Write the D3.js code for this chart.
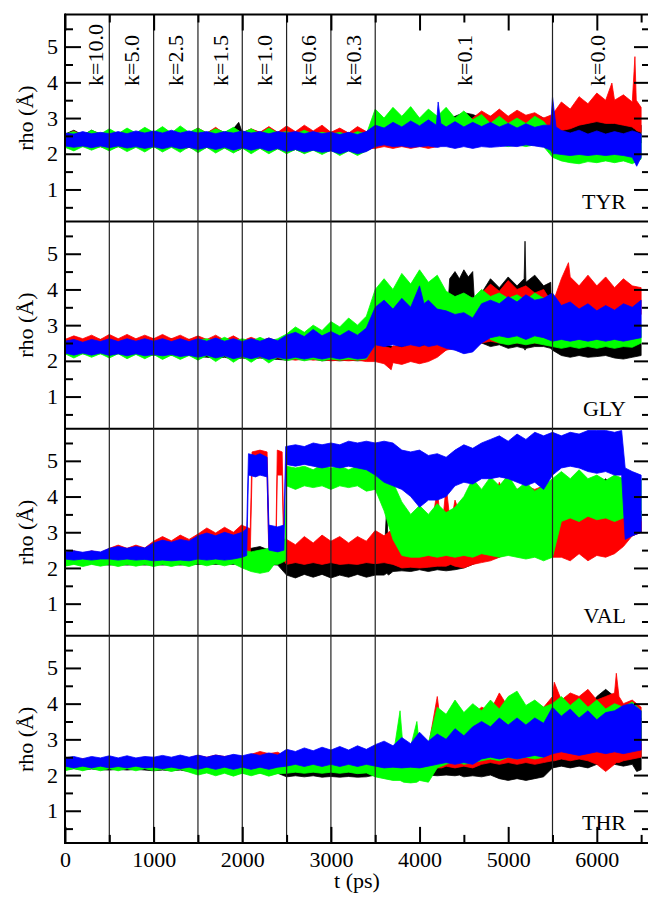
<!DOCTYPE html>
<html>
<head>
<meta charset="utf-8">
<script src="https://cdn.jsdelivr.net/npm/d3@7"></script>
<style>
  body { margin: 0; background: #fff; }
  svg { display: block; }
</style>
</head>
<body>
<div id="chart"></div>
<script>
// Each row: [t (ps), low rho, high rho] — envelope of the trajectory
var tyrBlack = [[0,2.22,2.55],[100,2.14,2.66],[200,2.22,2.52],[300,2.14,2.66],[400,2.2,2.55],[500,2.12,2.64],[600,2.2,2.56],[700,2.12,2.68],[800,2.2,2.56],[900,2.12,2.66],
  [1000,2.2,2.58],[1100,2.1,2.68],[1200,2.2,2.58],[1300,2.1,2.7],[1400,2.18,2.58],[1500,2.08,2.7],[1600,2.18,2.58],[1700,2.08,2.7],[1800,2.16,2.6],[1900,2.06,2.7],[1960,2.1,2.88],[2000,2.16,2.6],[2100,2.06,2.68],[2200,2.16,2.6],[2300,2.04,2.7],[2400,2.14,2.6],
  [2500,2.04,2.7],[2600,2.12,2.6],[2700,2.02,2.74],[2800,2.12,2.62],[2900,2.02,2.72],[3000,2.1,2.6],[3100,2.02,2.66],[3200,2.1,2.58],[3300,2.0,2.66],[3400,2.08,2.6],
  [3500,2.2,2.85],[3600,2.25,2.8],[3700,2.2,2.9],[3800,2.25,2.85],[3900,2.2,2.85],[4000,2.25,2.9],[4100,2.2,2.85],[4200,2.25,2.9],[4300,2.3,2.95],[4400,2.4,3.05],[4500,2.45,3.15],[4600,2.4,3.1],[4700,2.35,3.0],[4800,2.3,3.05],[4900,2.35,3.1],[5000,2.3,3.0],[5100,2.35,3.1],[5200,2.3,3.05],[5300,2.35,3.1],[5400,2.3,3.0],
  [5500,2.3,2.9],[5600,2.4,2.85],[5700,2.45,2.9],[5800,2.45,3.0],[5900,2.5,2.95],[6000,2.45,2.9],[6100,2.5,2.95],[6200,2.45,2.95],[6300,2.4,2.9],[6400,2.35,2.85],[6500,2.3,2.8]];
var tyrRed = [[0,2.2,2.52],[100,2.22,2.64],[200,2.2,2.5],[300,2.22,2.62],[400,2.2,2.52],[500,2.2,2.66],[600,2.22,2.55],[700,2.2,2.68],[800,2.22,2.56],[900,2.2,2.7],
  [1000,2.2,2.56],[1100,2.22,2.72],[1200,2.2,2.58],[1300,2.2,2.7],[1400,2.2,2.56],[1500,2.18,2.72],[1600,2.2,2.58],[1700,2.18,2.74],[1800,2.2,2.56],[1900,2.16,2.72],[2000,2.2,2.58],[2100,2.16,2.7],[2200,2.2,2.6],[2300,2.16,2.76],[2400,2.18,2.6],
  [2500,2.2,2.78],[2600,2.25,2.62],[2700,2.22,2.8],[2800,2.25,2.64],[2900,2.2,2.8],[3000,2.18,2.6],[3100,2.15,2.72],[3200,2.18,2.58],[3300,2.12,2.76],[3400,2.15,2.62],
  [3500,2.15,2.8],[3600,2.2,2.75],[3700,2.15,2.82],[3800,2.2,2.78],[3900,2.15,2.85],[4000,2.2,2.8],[4100,2.15,2.9],[4200,2.2,2.85],[4300,2.25,2.9],[4400,2.25,2.85],[4500,2.3,2.9],[4600,2.35,3.0],[4700,2.45,3.2],[4800,2.5,3.05],[4900,2.45,3.25],[5000,2.5,3.05],[5100,2.45,3.22],[5200,2.5,3.08],[5300,2.4,3.15],[5400,2.35,3.0],
  [5500,2.5,3.1],[5600,2.65,3.45],[5700,2.7,3.25],[5800,2.8,3.6],[5900,2.85,3.4],[6000,2.9,3.7],[6100,2.85,3.5],[6170,2.85,3.98],[6200,2.85,3.5],[6300,2.8,3.65],[6400,2.75,3.45],[6420,2.7,4.3],[6430,2.7,4.72],[6445,2.65,3.5],[6500,2.6,3.3]];
var tyrGreen = [[0,2.18,2.55],[100,2.08,2.62],[200,2.2,2.52],[300,2.1,2.66],[400,2.2,2.55],[500,2.08,2.7],[600,2.2,2.56],[700,2.06,2.72],[800,2.18,2.58],[900,2.05,2.74],
  [1000,2.2,2.6],[1100,2.05,2.76],[1200,2.18,2.58],[1300,2.04,2.78],[1400,2.2,2.6],[1500,2.03,2.72],[1600,2.18,2.58],[1700,2.02,2.7],[1800,2.16,2.6],[1900,2.02,2.74],[2000,2.16,2.58],[2100,2.0,2.7],[2200,2.15,2.56],[2300,2.0,2.72],[2400,2.14,2.58],
  [2500,2.0,2.62],[2600,2.12,2.55],[2700,2.0,2.66],[2800,2.1,2.55],[2900,1.98,2.6],[3000,2.1,2.55],[3100,1.95,2.6],[3200,2.08,2.52],[3300,1.95,2.62],[3400,2.08,2.55],
  [3500,2.3,3.25],[3600,2.35,3.0],[3700,2.3,3.3],[3800,2.35,3.05],[3900,2.3,3.32],[4000,2.35,3.0],[4100,2.3,3.25],[4200,2.35,3.05],[4300,2.3,3.3],[4400,2.35,3.0],[4500,2.4,3.2],[4600,2.45,2.95],[4700,2.4,3.1],[4800,2.3,2.85],[4900,2.25,3.05],[5000,2.2,2.85],[5100,2.25,3.0],[5200,2.2,2.85],[5300,2.25,3.05],[5400,2.2,2.9],
  [5500,1.9,2.6],[5600,1.8,2.5],[5700,1.75,2.45],[5800,1.72,2.5],[5900,1.78,2.45],[6000,1.75,2.5],[6100,1.8,2.45],[6200,1.75,2.4],[6300,1.8,2.5],[6400,1.72,2.45],[6500,1.85,2.5]];
var tyrBlue = [[0,2.22,2.58],[100,2.18,2.55],[200,2.22,2.62],[300,2.17,2.56],[400,2.22,2.6],[500,2.17,2.56],[600,2.22,2.62],[700,2.16,2.56],[800,2.2,2.64],[900,2.15,2.58],
  [1000,2.2,2.64],[1100,2.14,2.58],[1200,2.2,2.66],[1300,2.14,2.58],[1400,2.18,2.64],[1500,2.12,2.58],[1600,2.18,2.62],[1700,2.12,2.56],[1800,2.18,2.62],[1900,2.1,2.58],[2000,2.17,2.64],[2100,2.1,2.58],[2200,2.16,2.62],[2300,2.08,2.56],[2400,2.15,2.62],
  [2500,2.06,2.58],[2600,2.12,2.62],[2700,2.05,2.56],[2800,2.1,2.62],[2900,2.04,2.56],[3000,2.08,2.6],[3100,2.0,2.54],[3200,2.08,2.6],[3300,2.0,2.54],[3400,2.06,2.62],
  [3500,2.2,2.8],[3600,2.25,2.72],[3700,2.2,2.88],[3800,2.22,2.75],[3900,2.18,2.92],[4000,2.2,2.78],[4100,2.22,2.95],[4190,2.18,2.8],[4210,2.18,3.45],[4240,2.2,2.85],[4300,2.2,2.75],[4400,2.15,2.9],[4500,2.2,2.75],[4600,2.15,2.88],[4700,2.2,2.76],[4800,2.18,2.88],[4900,2.2,2.75],[5000,2.22,2.85],[5100,2.2,2.72],[5200,2.25,2.84],[5300,2.22,2.74],[5400,2.18,2.8],
  [5480,2.1,2.8],[5500,2.0,3.6],[5540,2.0,2.75],[5600,1.98,2.65],[5700,1.95,2.58],[5800,1.98,2.66],[5900,1.95,2.55],[6000,1.98,2.64],[6100,1.95,2.55],[6200,1.98,2.62],[6300,1.95,2.56],[6400,1.9,2.64],[6450,1.65,2.6],[6500,1.9,2.55]];

var glyBlack = [[0,2.2,2.6],[100,2.18,2.62],[200,2.2,2.58],[300,2.18,2.62],[400,2.2,2.6],[500,2.18,2.64],[600,2.2,2.6],[700,2.16,2.62],[800,2.2,2.6],[900,2.18,2.64],
  [1000,2.16,2.62],[1100,2.18,2.6],[1200,2.15,2.62],[1300,2.16,2.58],[1400,2.15,2.6],[1500,2.12,2.62],[1600,2.1,2.55],[1700,2.08,2.58],[1800,2.1,2.52],[1900,2.05,2.55],[2000,2.08,2.5],[2100,2.05,2.52],[2200,2.08,2.48],[2300,2.05,2.52],[2400,2.04,2.5],
  [2500,2.02,2.55],[2600,2.05,2.6],[2700,2.02,2.62],[2800,2.05,2.58],[2900,2.0,2.62],[3000,2.02,2.6],[3100,2.0,2.58],[3200,2.02,2.62],[3300,2.0,2.6],[3400,2.02,2.65],
  [3500,2.05,2.5],[3600,2.0,2.45],[3700,2.02,2.4],[3800,2.05,2.45],[3900,2.0,2.4],[4000,2.05,2.45],[4100,2.1,2.5],[4200,2.2,2.55],[4300,2.3,2.7],[4340,3.7,4.3],[4400,3.75,4.5],[4450,3.7,4.3],[4500,3.75,4.55],[4550,3.72,4.35],[4600,3.8,4.5],[4630,2.6,3.2],
  [4700,2.5,3.9],[4800,2.4,4.3],[4900,2.45,4.05],[5000,2.35,4.35],[5100,2.4,4.1],[5180,2.35,4.3],[5190,2.3,5.35],[5200,2.35,4.2],[5300,2.4,4.4],[5400,2.4,4.1],[5480,2.35,4.2],
  [5500,2.3,2.5],[5600,2.15,2.5],[5700,2.1,2.45],[5800,2.15,2.5],[5900,2.1,2.45],[6000,2.12,2.5],[6100,2.15,2.45],[6200,2.08,2.5],[6300,2.05,2.45],[6400,2.1,2.48],[6500,2.15,2.5]];
var glyRed = [[0,2.22,2.6],[100,2.2,2.7],[200,2.24,2.62],[300,2.2,2.72],[400,2.22,2.6],[500,2.2,2.74],[600,2.22,2.62],[700,2.2,2.74],[800,2.22,2.62],[900,2.2,2.72],
  [1000,2.2,2.62],[1100,2.22,2.74],[1200,2.2,2.62],[1300,2.18,2.72],[1400,2.2,2.6],[1500,2.18,2.7],[1600,2.16,2.6],[1700,2.14,2.72],[1800,2.15,2.58],[1900,2.12,2.7],[2000,2.1,2.56],[2100,2.12,2.66],[2200,2.1,2.56],[2300,2.12,2.64],[2400,2.08,2.55],
  [2500,2.05,2.6],[2600,2.02,2.55],[2700,2.05,2.6],[2800,2.02,2.56],[2900,2.04,2.62],[3000,2.0,2.55],[3100,2.02,2.6],[3200,2.0,2.58],[3300,2.02,2.62],[3400,1.98,2.6],
  [3500,1.98,2.45],[3600,1.92,2.4],[3680,1.75,2.35],[3700,1.95,2.42],[3800,1.9,2.38],[3900,1.98,2.45],[4000,1.92,2.4],[4100,1.98,2.45],[4200,2.1,2.55],[4300,2.3,2.6],[4400,2.35,2.6],[4500,2.3,2.55],[4600,2.35,2.6],
  [4700,2.5,3.9],[4800,2.55,4.15],[4900,2.5,3.95],[5000,2.55,4.25],[5100,2.5,4.0],[5200,2.55,4.1],[5300,2.5,3.9],[5400,2.5,4.0],
  [5500,2.6,3.6],[5600,3.3,4.3],[5680,3.35,4.75],[5700,3.3,4.35],[5800,3.35,4.1],[5900,3.3,4.4],[6000,3.35,4.1],[6100,3.3,4.35],[6200,3.35,4.05],[6300,3.3,4.3],[6400,3.25,4.1],[6500,3.3,4.05]];
var glyGreen = [[0,2.2,2.5],[100,2.08,2.55],[200,2.2,2.48],[300,2.1,2.55],[400,2.2,2.5],[500,2.08,2.56],[600,2.2,2.5],[700,2.06,2.55],[800,2.18,2.5],[900,2.06,2.56],
  [1000,2.18,2.5],[1100,2.04,2.55],[1200,2.16,2.5],[1300,2.04,2.56],[1400,2.15,2.5],[1500,2.02,2.58],[1600,2.15,2.62],[1700,1.98,2.55],[1800,2.14,2.66],[1900,1.96,2.55],[2000,2.12,2.62],[2100,1.96,2.55],[2200,2.12,2.66],[2300,1.94,2.55],[2400,2.1,2.62],
  [2500,2.0,2.75],[2600,2.06,2.95],[2700,2.0,2.8],[2800,2.05,3.0],[2900,2.0,2.85],[3000,2.05,3.1],[3100,2.02,2.95],[3200,2.05,3.2],[3300,2.02,3.0],[3400,2.05,3.25],
  [3500,2.5,4.0],[3600,2.55,4.3],[3700,2.6,4.0],[3800,2.6,4.45],[3900,2.65,4.15],[4000,2.7,4.55],[4100,2.7,4.2],[4200,2.8,4.4],[4300,2.9,3.95],[4400,2.95,3.8],[4500,2.9,3.9],[4600,2.95,3.75],[4700,2.8,4.0],
  [4800,2.6,3.8],[4900,2.5,3.9],[5000,2.45,3.75],[5100,2.5,3.85],[5200,2.45,3.7],[5300,2.5,3.9],[5400,2.45,3.75],
  [5500,2.4,3.2],[5600,2.35,2.95],[5700,2.4,2.9],[5800,2.35,3.0],[5900,2.4,2.9],[6000,2.35,2.95],[6100,2.4,2.9],[6200,2.35,3.0],[6300,2.4,2.95],[6400,2.38,2.9],[6500,2.5,3.0]];
var glyBlue = [[0,2.22,2.55],[100,2.16,2.6],[200,2.22,2.52],[300,2.16,2.6],[400,2.22,2.54],[500,2.15,2.62],[600,2.2,2.54],[700,2.14,2.62],[800,2.2,2.55],[900,2.14,2.62],
  [1000,2.18,2.55],[1100,2.14,2.62],[1200,2.18,2.54],[1300,2.12,2.62],[1400,2.16,2.54],[1500,2.1,2.62],[1600,2.16,2.55],[1700,2.08,2.64],[1800,2.14,2.55],[1900,2.06,2.62],[2000,2.12,2.54],[2100,2.06,2.62],[2200,2.12,2.55],[2300,2.04,2.64],[2400,2.1,2.56],
  [2500,2.05,2.72],[2600,2.1,2.8],[2700,2.05,2.68],[2800,2.1,2.88],[2900,2.05,2.7],[3000,2.1,2.82],[3100,2.05,2.7],[3200,2.1,2.85],[3300,2.05,2.72],[3400,2.08,2.92],
  [3500,2.45,3.5],[3600,2.4,3.7],[3700,2.45,3.45],[3800,2.4,3.75],[3900,2.45,3.5],[4000,2.4,4.1],[4050,2.45,3.6],[4100,2.4,3.7],[4200,2.45,3.45],[4300,2.35,3.4],[4400,2.3,3.3],[4500,2.2,3.35],[4600,2.25,3.2],[4700,2.5,3.6],
  [4800,2.65,3.7],[4900,2.7,3.6],[5000,2.65,3.8],[5100,2.7,3.65],[5200,2.6,3.85],[5300,2.7,3.7],[5400,2.65,3.75],
  [5500,2.55,3.9],[5600,2.6,3.55],[5700,2.55,3.65],[5800,2.6,3.45],[5900,2.55,3.6],[6000,2.6,3.4],[6100,2.55,3.55],[6200,2.6,3.42],[6300,2.55,3.6],[6400,2.6,3.5],[6500,2.65,3.7]];

var valBlack = [[0,2.1,2.4],[100,2.12,2.38],[200,2.1,2.42],[300,2.12,2.38],[400,2.1,2.4],[500,2.08,2.45],[600,2.1,2.42],[700,2.08,2.48],[800,2.1,2.45],[900,2.08,2.5],
  [1000,2.1,2.6],[1100,2.08,2.55],[1200,2.1,2.65],[1300,2.08,2.6],[1400,2.1,2.7],[1500,2.1,2.65],[1600,2.12,2.7],[1700,2.1,2.9],[1800,2.12,2.65],[1900,2.1,2.7],[2000,2.15,2.6],[2100,2.1,2.55],[2200,2.12,2.6],[2300,2.1,2.5],[2400,2.08,2.6],
  [2500,1.8,2.2],[2600,1.72,2.15],[2700,1.82,2.2],[2800,1.74,2.15],[2900,1.82,2.2],[3000,1.72,2.15],[3100,1.8,2.2],[3200,1.74,2.15],[3300,1.82,2.2],[3400,1.74,2.15],[3500,1.8,2.2],[3600,1.8,2.25],[3630,1.85,3.75],[3650,1.8,2.3],[3700,1.9,2.4],
  [3800,1.92,2.45],[3900,1.9,2.5],[4000,1.95,2.45],[4100,1.9,2.5],[4200,1.95,2.55],[4300,1.92,2.5],[4400,1.95,2.55],[4500,2.0,2.6],[4600,2.1,2.8],[4700,2.2,3.0],[4800,2.25,3.3],[4900,2.3,3.2],[5000,2.6,3.8],[5100,2.8,4.0],[5200,2.9,4.1],[5300,3.0,4.0],[5400,3.2,4.0],
  [5500,2.6,3.9],[5600,2.5,4.0],[5700,2.6,4.1],[5800,2.7,4.2],[5900,2.8,4.3],[6000,2.7,4.3],[6100,2.8,4.5],[6200,2.7,4.2],[6300,2.8,4.0],[6400,2.9,3.8],[6500,3.0,3.6]];
var valRed = [[0,2.22,2.42],[100,2.2,2.48],[200,2.22,2.4],[300,2.2,2.48],[400,2.22,2.42],[500,2.25,2.55],[600,2.22,2.64],[700,2.25,2.55],[800,2.22,2.64],[900,2.25,2.56],
  [1000,2.3,2.75],[1100,2.28,2.88],[1200,2.3,2.76],[1300,2.28,2.92],[1400,2.3,2.8],[1500,2.3,2.95],[1600,2.28,3.12],[1700,2.3,2.98],[1800,2.32,3.14],[1900,2.3,3.0],[1990,2.3,3.2],[2090,2.4,3.1],[2110,4.6,5.25],[2200,4.7,5.3],[2280,4.6,5.25],[2300,2.3,3.0],[2380,2.35,2.9],[2395,4.6,5.3],[2450,4.6,5.25],[2470,2.2,2.8],
  [2500,2.1,2.8],[2600,2.15,2.65],[2700,2.1,2.88],[2800,2.15,2.7],[2900,2.1,2.92],[3000,2.15,2.75],[3100,2.1,2.88],[3200,2.12,2.7],[3300,2.1,2.88],[3400,2.15,2.75],[3500,2.12,3.05],[3600,2.15,2.9],[3700,2.1,3.1],
  [3800,2.0,2.45],[3900,2.02,2.4],[4000,2.0,2.5],[4100,2.02,2.55],[4200,2.05,4.2],[4250,2.05,3.0],[4300,2.05,4.3],[4350,2.1,3.2],[4400,2.05,3.9],[4500,2.0,3.2],[4600,2.1,3.5],[4700,2.15,3.3],[4800,2.2,3.6],[4900,2.3,4.4],[5000,2.4,3.8],
  [5100,2.6,4.2],[5200,2.8,4.3],[5300,2.9,4.2],[5400,3.0,4.3],[5500,2.3,3.8],[5600,2.3,3.7],[5700,2.2,3.9],[5800,2.4,3.6],[5900,2.2,3.8],[6000,2.35,3.55],[6100,2.3,3.9],[6200,2.4,3.5],[6300,2.6,3.6],[6400,2.9,3.4],[6500,3.0,3.3]];
var valGreen = [[0,2.05,2.32],[100,2.1,2.3],[200,2.04,2.35],[300,2.1,2.3],[400,2.05,2.32],[500,2.1,2.3],[600,2.04,2.35],[700,2.1,2.3],[800,2.05,2.36],[900,2.1,2.32],
  [1000,2.04,2.4],[1100,2.1,2.35],[1200,2.04,2.42],[1300,2.1,2.38],[1400,2.04,2.45],[1500,2.12,2.42],[1600,2.06,2.5],[1700,2.12,2.45],[1800,2.06,2.5],[1900,2.12,2.45],[2000,2.0,2.5],[2100,1.9,2.45],[2200,1.85,2.5],[2300,1.9,2.55],[2360,2.1,2.9],[2400,2.1,2.6],[2450,2.15,3.0],[2485,2.2,2.7],
  [2500,4.3,4.85],[2600,4.2,4.8],[2700,4.3,4.85],[2800,4.25,4.75],[2900,4.3,4.9],[3000,4.2,4.8],[3100,4.3,4.85],[3200,4.25,4.75],[3300,4.3,4.85],[3400,4.15,4.8],[3500,4.2,4.9],[3600,3.6,4.7],[3700,2.8,4.4],
  [3800,2.35,3.85],[3900,2.3,3.5],[4000,2.3,3.75],[4100,2.35,3.5],[4200,2.3,3.8],[4300,2.35,3.55],[4400,2.3,3.7],[4500,2.35,4.0],[4600,2.3,4.5],[4700,2.4,4.2],[4800,2.35,4.55],[4900,2.3,4.3],[5000,2.35,4.6],[5100,2.3,4.2],[5200,2.25,4.4],[5300,2.3,4.15],[5400,2.2,4.3],
  [5500,2.3,4.5],[5600,3.3,4.7],[5700,3.4,4.5],[5800,3.3,4.75],[5900,3.45,4.5],[6000,3.35,4.6],[6100,3.4,4.45],[6200,3.3,4.6],[6300,3.4,4.5],[6400,3.5,4.6],[6500,3.4,4.5]];
var valBlue = [[0,2.25,2.45],[100,2.22,2.48],[200,2.25,2.44],[300,2.22,2.48],[400,2.25,2.45],[500,2.25,2.55],[600,2.22,2.6],[700,2.25,2.55],[800,2.22,2.6],[900,2.24,2.56],
  [1000,2.2,2.7],[1100,2.22,2.78],[1200,2.2,2.72],[1300,2.22,2.8],[1400,2.2,2.75],[1500,2.25,2.9],[1600,2.22,2.98],[1700,2.25,2.9],[1800,2.22,3.0],[1900,2.25,2.92],[2000,2.3,3.0],[2050,2.35,3.1],[2070,4.6,5.2],[2150,4.55,5.15],[2200,4.6,5.2],[2280,4.55,5.1],[2300,2.5,3.2],[2400,2.45,3.15],[2470,2.5,3.2],
  [2490,4.9,5.4],[2600,4.85,5.45],[2700,4.9,5.4],[2800,4.85,5.5],[2900,4.8,5.45],[3000,4.85,5.5],[3100,4.8,5.45],[3200,4.85,5.55],[3300,4.8,5.5],[3400,4.75,5.55],[3500,4.6,5.5],[3600,4.4,5.55],[3700,4.3,5.5],
  [3800,4.2,5.3],[3900,4.0,5.25],[4000,3.7,5.3],[4100,3.9,5.15],[4200,3.9,5.2],[4300,4.0,5.1],[4400,4.3,5.3],[4500,4.4,5.45],[4600,4.35,5.35],[4700,4.5,5.5],[4800,4.5,5.6],[4900,4.55,5.7],[5000,4.5,5.55],[5100,4.4,5.75],[5200,4.3,5.6],[5300,4.4,5.8],[5400,4.2,5.7],
  [5500,4.6,5.8],[5600,4.8,5.7],[5700,4.85,5.8],[5800,4.8,5.75],[5900,4.7,5.85],[6000,4.65,5.85],[6100,4.7,5.85],[6200,4.6,5.8],[6280,4.6,5.85],[6320,2.8,4.8],[6400,2.9,4.7],[6500,3.0,4.6]];

var thrBlack = [[0,2.15,2.4],[100,2.18,2.38],[200,2.15,2.42],[300,2.17,2.38],[400,2.15,2.4],[500,2.14,2.42],[600,2.16,2.38],[700,2.14,2.42],[800,2.16,2.4],[900,2.14,2.42],
  [1000,2.12,2.4],[1100,2.14,2.42],[1200,2.12,2.38],[1300,2.14,2.42],[1400,2.1,2.4],[1500,2.05,2.42],[1600,2.08,2.4],[1700,2.05,2.45],[1800,2.08,2.42],[1900,2.04,2.45],[2000,2.06,2.42],[2100,2.04,2.45],[2200,2.06,2.4],[2300,2.04,2.45],[2400,2.05,2.42],
  [2500,1.95,2.3],[2600,1.98,2.28],[2700,1.95,2.32],[2800,1.98,2.28],[2900,1.94,2.3],[3000,1.96,2.28],[3100,1.94,2.32],[3200,1.96,2.3],[3300,1.94,2.32],[3400,1.95,2.3],
  [3500,2.0,2.5],[3600,1.98,2.45],[3700,2.0,2.55],[3800,1.98,2.5],[3900,2.0,2.6],[4000,1.98,2.5],[4100,2.0,2.6],[4200,1.98,3.0],[4300,2.0,3.2],[4400,1.98,3.9],[4450,2.0,3.3],[4500,1.95,3.2],[4600,1.98,3.3],
  [4700,1.95,3.5],[4800,2.0,3.4],[4900,1.9,3.6],[5000,1.85,3.4],[5100,1.9,3.6],[5200,1.85,3.5],[5300,1.9,3.7],[5400,1.95,3.5],
  [5500,2.2,3.8],[5600,2.25,3.9],[5700,2.2,3.8],[5800,2.25,4.0],[5900,2.2,3.9],[6000,2.3,4.2],[6100,2.25,4.4],[6200,2.3,4.2],[6300,2.25,3.9],[6400,2.3,3.8],[6450,2.1,3.7],[6500,2.15,3.6]];
var thrRed = [[0,2.15,2.45],[100,2.2,2.42],[200,2.14,2.46],[300,2.2,2.42],[400,2.15,2.45],[500,2.2,2.48],[600,2.14,2.44],[700,2.2,2.48],[800,2.15,2.45],[900,2.2,2.5],
  [1000,2.14,2.46],[1100,2.2,2.5],[1200,2.14,2.46],[1300,2.2,2.5],[1400,2.14,2.48],[1500,2.18,2.55],[1600,2.14,2.5],[1700,2.18,2.56],[1800,2.14,2.52],[1900,2.18,2.55],[2000,2.13,2.5],[2100,2.18,2.58],[2200,2.14,2.66],[2300,2.18,2.6],[2400,2.13,2.64],
  [2500,2.1,2.5],[2600,2.12,2.52],[2700,2.1,2.5],[2800,2.12,2.55],[2900,2.1,2.5],[3000,2.12,2.55],[3100,2.1,2.52],[3200,2.12,2.56],[3300,2.1,2.52],[3400,2.12,2.55],
  [3500,2.1,2.6],[3600,2.12,2.55],[3700,2.1,2.65],[3800,2.12,2.6],[3900,2.1,2.65],[4000,2.12,2.6],[4100,2.15,2.8],[4200,2.2,4.2],[4250,2.2,3.2],[4300,2.25,3.4],[4400,2.2,3.6],[4500,2.25,3.5],[4600,2.2,3.7],
  [4700,2.3,3.9],[4800,2.35,3.8],[4900,2.3,4.3],[5000,2.35,3.9],[5100,2.3,4.1],[5200,2.35,3.8],[5300,2.3,4.0],[5400,2.35,3.9],
  [5500,2.4,4.2],[5520,2.4,4.6],[5600,2.45,4.1],[5700,2.4,4.3],[5800,2.45,4.2],[5900,2.4,4.4],[6000,2.3,4.1],[6100,2.1,4.2],[6200,2.3,4.3],[6220,2.35,4.85],[6250,2.35,4.2],[6300,2.4,4.0],[6400,2.45,4.1],[6500,2.5,3.9]];
var thrGreen = [[0,2.12,2.4],[100,2.18,2.38],[200,2.12,2.42],[300,2.18,2.38],[400,2.12,2.4],[500,2.18,2.38],[600,2.12,2.4],[700,2.18,2.36],[800,2.12,2.4],[900,2.18,2.38],
  [1000,2.12,2.4],[1100,2.16,2.36],[1200,2.1,2.4],[1300,2.16,2.38],[1400,2.08,2.4],[1500,2.0,2.32],[1600,2.06,2.3],[1700,1.98,2.35],[1800,2.05,2.3],[1900,1.97,2.32],[2000,2.05,2.3],[2100,1.98,2.34],[2200,2.05,2.3],[2300,1.97,2.32],[2400,2.04,2.3],
  [2500,2.05,2.4],[2600,2.08,2.35],[2700,2.05,2.4],[2800,2.08,2.36],[2900,2.05,2.4],[3000,2.08,2.35],[3100,2.05,2.4],[3200,2.08,2.36],[3300,2.04,2.4],[3400,2.06,2.38],
  [3500,1.95,2.4],[3600,1.9,2.45],[3700,1.85,2.5],[3780,1.85,3.8],[3820,1.8,2.6],[3900,1.78,2.8],[3970,1.8,3.5],[4000,1.85,2.8],[4100,1.8,2.9],[4200,2.2,3.9],[4300,2.3,3.7],[4400,2.4,4.1],[4500,2.3,3.75],[4600,2.35,4.0],
  [4700,2.4,3.8],[4800,2.45,4.1],[4900,2.4,3.85],[5000,2.5,4.2],[5100,2.45,4.35],[5200,2.5,3.95],[5300,2.45,4.1],[5400,2.5,3.9],
  [5500,2.8,4.0],[5600,2.85,4.2],[5700,2.8,3.95],[5800,2.9,4.15],[5900,2.85,3.9],[6000,2.8,4.1],[6100,2.85,3.85],[6200,2.8,4.0],[6300,2.9,3.9],[6400,2.85,4.05],[6500,2.9,3.8]];
var thrBlue = [[0,2.25,2.48],[100,2.2,2.52],[200,2.25,2.46],[300,2.2,2.52],[400,2.25,2.48],[500,2.2,2.54],[600,2.24,2.48],[700,2.2,2.54],[800,2.25,2.48],[900,2.2,2.52],
  [1000,2.22,2.5],[1100,2.18,2.55],[1200,2.22,2.5],[1300,2.18,2.56],[1400,2.22,2.5],[1500,2.16,2.56],[1600,2.22,2.5],[1700,2.16,2.56],[1800,2.22,2.52],[1900,2.16,2.58],[2000,2.22,2.54],[2100,2.16,2.6],[2200,2.22,2.55],[2300,2.16,2.62],[2400,2.22,2.56],
  [2500,2.25,2.72],[2600,2.3,2.66],[2700,2.24,2.76],[2800,2.3,2.68],[2900,2.24,2.78],[3000,2.3,2.7],[3100,2.24,2.8],[3200,2.3,2.7],[3300,2.24,2.82],[3400,2.3,2.72],
  [3500,2.25,2.85],[3600,2.2,2.95],[3700,2.22,2.82],[3800,2.2,3.05],[3900,2.22,2.88],[4000,2.2,3.2],[4100,2.25,2.95],[4200,2.3,3.15],[4300,2.35,3.0],[4400,2.3,3.3],[4500,2.35,3.1],[4600,2.3,3.35],
  [4700,2.45,3.5],[4800,2.5,3.35],[4900,2.45,3.6],[5000,2.5,3.4],[5100,2.45,3.6],[5200,2.5,3.4],[5300,2.55,3.6],[5400,2.5,3.45],
  [5500,2.6,3.9],[5600,2.65,3.65],[5700,2.6,3.85],[5800,2.55,3.6],[5900,2.6,3.8],[6000,2.65,3.55],[6100,2.6,3.75],[6200,2.65,3.8],[6300,2.6,3.95],[6400,2.65,4.0],[6500,2.7,3.8]];

var panelNames = ['TYR', 'GLY', 'VAL', 'THR'];
var panelSeries = [
  [tyrBlack, tyrRed, tyrGreen, tyrBlue],
  [glyBlack, glyRed, glyGreen, glyBlue],
  [valBlack, valRed, valGreen, valBlue],
  [thrBlack, thrRed, thrGreen, thrBlue]
];
var seriesColors = ['#000000', '#ff0000', '#00ff00', '#0000ff'];

var kBounds = [0, 500, 1000, 1500, 2000, 2500, 3000, 3500, 5500, 6500];
var kLabels = ['k=10.0', 'k=5.0', 'k=2.5', 'k=1.5', 'k=1.0', 'k=0.6', 'k=0.3', 'k=0.1', 'k=0.0'];
var kLines = [500, 1000, 1500, 2000, 2500, 3000, 3500, 5500];

var xMajor = [0, 1000, 2000, 3000, 4000, 5000, 6000];
var xMinor = [500, 1500, 2500, 3500, 4500, 5500, 6500];
var yMajor = [1, 2, 3, 4, 5];
var yMinor = [0.5, 1.5, 2.5, 3.5, 4.5, 5.5];

(function () {
  'use strict';
  var width = 648, height = 899;
  var font = '"Liberation Serif", "Times New Roman", serif';
  var left = 65, right = 650, top = 14.5, panelH = 207.1;
  var bottom = top + panelH * panelNames.length;

  var x = d3.scaleLinear().domain([0, 6600]).range([left, right]);

  var svg = d3.select('#chart').append('svg')
    .attr('width', width).attr('height', height)
    .style('background', '#fff');

  function styleAxis(g) {
    g.select('.domain').remove();
    g.selectAll('.tick line').attr('stroke', '#000').attr('stroke-width', 2);
    g.selectAll('.tick text').attr('fill', '#000');
    g.attr('font-family', font).attr('font-size', 22);
  }

  panelNames.forEach(function (name, i) {
    var y0 = top + i * panelH;
    var y = d3.scaleLinear().domain([0.1, 5.9]).range([y0 + panelH, y0]);

    svg.append('clipPath').attr('id', 'clip' + i)
      .append('rect').attr('x', left).attr('y', y0).attr('width', right - left).attr('height', panelH);

    var area = d3.area()
      .x(function (d) { return x(d[0]); })
      .y0(function (d) { return y(d[1]); })
      .y1(function (d) { return y(d[2]); });

    // black, red, green, blue — blue ends up on top
    var g = svg.append('g').attr('clip-path', 'url(#clip' + i + ')');
    panelSeries[i].forEach(function (s, j) {
      g.append('path').datum(s).attr('d', area)
        .attr('fill', seriesColors[j])
        .attr('stroke', seriesColors[j]).attr('stroke-width', 0.8);
    });

    // y ticks, left (labelled) and right
    svg.append('g').attr('transform', 'translate(' + left + ',0)')
      .call(d3.axisLeft(y).tickValues(yMajor).tickSize(-16).tickPadding(7).tickFormat(d3.format('d')))
      .call(styleAxis);
    svg.append('g').attr('transform', 'translate(' + left + ',0)')
      .call(d3.axisLeft(y).tickValues(yMinor).tickSize(-8).tickFormat(''))
      .call(styleAxis);
    svg.append('g').attr('transform', 'translate(' + right + ',0)')
      .call(d3.axisRight(y).tickValues(yMajor).tickSize(-16).tickFormat(''))
      .call(styleAxis);
    svg.append('g').attr('transform', 'translate(' + right + ',0)')
      .call(d3.axisRight(y).tickValues(yMinor).tickSize(-8).tickFormat(''))
      .call(styleAxis);

    // panel bottom border
    svg.append('line').attr('x1', left).attr('x2', right)
      .attr('y1', y0 + panelH).attr('y2', y0 + panelH)
      .attr('stroke', '#000').attr('stroke-width', 2);

    svg.append('text')
      .attr('transform', 'translate(33,' + (y0 + panelH / 2) + ') rotate(-90)')
      .attr('text-anchor', 'middle')
      .attr('font-family', font).attr('font-size', 22)
      .text('rho (\u00c5)');

    svg.append('text')
      .attr('x', 626).attr('y', y0 + panelH - 13)
      .attr('text-anchor', 'end')
      .attr('font-family', font).attr('font-size', 22)
      .text(name);
  });

  // restraint boundaries
  svg.selectAll('line.kline').data(kLines).enter().append('line')
    .attr('class', 'kline')
    .attr('x1', function (d) { return x(d); }).attr('x2', function (d) { return x(d); })
    .attr('y1', top).attr('y2', bottom)
    .attr('stroke', '#222').attr('stroke-width', 1.2);

  kLabels.forEach(function (lab, i) {
    var cx = x((kBounds[i] + kBounds[i + 1]) / 2) + (i === 0 ? 8 : 0);
    svg.append('text')
      .attr('transform', 'translate(' + cx + ',86) rotate(-90)')
      .attr('dy', '0.35em')
      .attr('font-family', font).attr('font-size', 22)
      .text(lab);
  });

  // top and bottom x ticks
  svg.append('g').attr('transform', 'translate(0,' + top + ')')
    .call(d3.axisTop(x).tickValues(xMajor).tickSize(-16).tickFormat(''))
    .call(styleAxis);
  svg.append('g').attr('transform', 'translate(0,' + top + ')')
    .call(d3.axisTop(x).tickValues(xMinor).tickSize(-8).tickFormat(''))
    .call(styleAxis);
  svg.append('g').attr('transform', 'translate(0,' + bottom + ')')
    .call(d3.axisBottom(x).tickValues(xMajor).tickSize(-16).tickPadding(8.5).tickFormat(d3.format('d')))
    .call(styleAxis);
  svg.append('g').attr('transform', 'translate(0,' + bottom + ')')
    .call(d3.axisBottom(x).tickValues(xMinor).tickSize(-8).tickFormat(''))
    .call(styleAxis);

  // frame
  svg.append('line').attr('x1', left).attr('x2', left).attr('y1', top - 1).attr('y2', bottom + 1)
    .attr('stroke', '#000').attr('stroke-width', 2);
  svg.append('line').attr('x1', left).attr('x2', right).attr('y1', top).attr('y2', top)
    .attr('stroke', '#000').attr('stroke-width', 2);

  svg.append('text')
    .attr('x', 357).attr('y', 888)
    .attr('text-anchor', 'middle')
    .attr('font-family', font).attr('font-size', 22)
    .text('t (ps)');
})();
</script>
</body>
</html>
